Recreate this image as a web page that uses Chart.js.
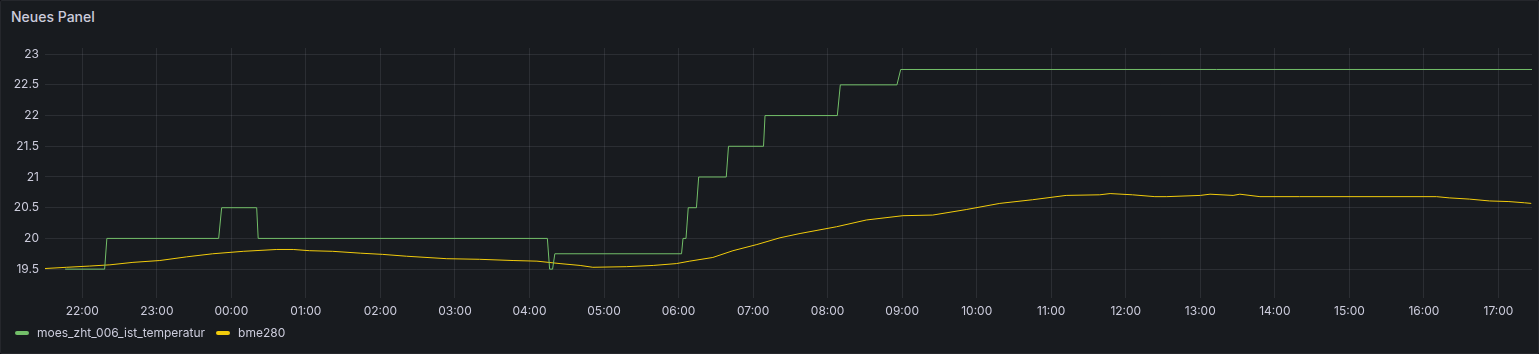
<!DOCTYPE html>
<html>
<head>
<meta charset="utf-8">
<script src="https://cdn.jsdelivr.net/npm/chart.js@4.4.1/dist/chart.umd.min.js"></script>
<style>
  html, body { margin: 0; padding: 0; background: #111217; }
  #panel {
    position: absolute; left: 0; top: 0; width: 1537px; height: 352px;
    background: #181b1f; border: 1px solid #25272c; border-radius: 2px;
    font-family: Inter, "Noto Sans", sans-serif; color: #ccccdc;
  }
  #title { position: absolute; left: 10px; top: 7px; font-size: 14px; font-weight: 500; }
  #wrap { position: absolute; left: -1px; top: -1px; width: 1539px; height: 354px; }
  #legend { position: absolute; left: 14px; top: 324px; display: flex; font-size: 12px; line-height: 16px; }
  .item { display: flex; align-items: center; margin-right: 11px; }
  .mark { width: 14px; height: 4px; border-radius: 2px; margin-right: 8px; }
</style>
</head>
<body>
<div id="panel">
  <div id="title">Neues Panel</div>
  <div id="wrap"><canvas id="myChart"></canvas></div>
  <div id="legend"></div>
</div>
<script>
// time in hours since midnight of the first day (24 = 00:00 next day)
var moesTime = [21.77, 22.30, 22.33, 23.83, 23.87, 24.34, 24.36, 28.24, 28.27, 28.31, 28.34,
  30.04, 30.06, 30.10, 30.13, 30.24, 30.27, 30.64, 30.67, 31.14, 31.16, 32.13, 32.17, 32.93, 32.98, 41.45];
var moesVals = [19.5, 19.5, 20, 20, 20.5, 20.5, 20, 20, 19.5, 19.5, 19.75,
  19.75, 20, 20, 20.5, 20.5, 21, 21, 21.5, 21.5, 22, 22, 22.5, 22.5, 22.75, 22.75];

var bmeTime = [21.50, 21.79, 22.10, 22.37, 22.68, 23.04, 23.40, 23.75, 24.16, 24.61, 24.83, 25.05,
  25.36, 25.73, 26.03, 26.35, 26.89, 27.33, 27.78, 28.10, 28.41, 28.68, 28.85, 29.30, 29.66, 29.97,
  30.15, 30.46, 30.73, 31.05, 31.36, 31.63, 32.12, 32.52, 33.01, 33.41, 33.86, 34.31, 34.75, 35.20,
  35.65, 35.79, 36.09, 36.39, 36.55, 37.00, 37.13, 37.44, 37.53, 37.80, 38.33, 40.17, 40.34, 40.61,
  40.88, 41.14, 41.35, 41.44];
var bmeVals = [19.51, 19.53, 19.55, 19.57, 19.61, 19.64, 19.70, 19.75, 19.79, 19.82, 19.82, 19.80,
  19.79, 19.76, 19.74, 19.71, 19.67, 19.66, 19.64, 19.63, 19.59, 19.56, 19.53, 19.54, 19.56, 19.59,
  19.63, 19.69, 19.80, 19.90, 20.01, 20.08, 20.19, 20.30, 20.37, 20.38, 20.47, 20.57, 20.63, 20.70,
  20.71, 20.73, 20.71, 20.68, 20.68, 20.70, 20.72, 20.70, 20.72, 20.68, 20.68, 20.68, 20.66, 20.64,
  20.61, 20.60, 20.58, 20.57];

var hourTicks = [22, 23, 24, 25, 26, 27, 28, 29, 30, 31, 32, 33, 34, 35, 36, 37, 38, 39, 40, 41];
var valueTicks = [19.5, 20, 20.5, 21, 21.5, 22, 22.5, 23];

var seriesNames = ["moes_zht_006_ist_temperatur", "bme280"];
var seriesColors = ["#73bf69", "#f2cc0c"];

function pts(t, v) {
  var out = [];
  for (var i = 0; i < t.length; i++) out.push({x: t[i], y: v[i]});
  return out;
}

var grid = "rgba(204,204,220,0.11)";
var tickFont = {family: "Inter", size: 12};

var ctx = document.getElementById("myChart").getContext("2d");
var chart = new Chart(ctx, {
  type: "line",
  data: {
    datasets: [{
      label: seriesNames[0],
      data: pts(moesTime, moesVals),
      borderColor: seriesColors[0],
      borderWidth: 1,
      pointRadius: 0,
      tension: 0
    }, {
      label: seriesNames[1],
      data: pts(bmeTime, bmeVals),
      borderColor: seriesColors[1],
      borderWidth: 1,
      pointRadius: 0,
      tension: 0
    }]
  },
  options: {
    responsive: true,
    maintainAspectRatio: false,
    animation: false,
    layout: {padding: {left: 0, right: 7, top: 48, bottom: 0}},
    plugins: {legend: {display: false}, tooltip: {enabled: false}},
    scales: {
      x: {
        type: "linear",
        min: 21.5,
        max: 41.45,
        afterBuildTicks: function(s) { s.ticks = hourTicks.map(function(v) { return {value: v}; }); },
        afterFit: function(s) { s.height = 56; },
        grid: {color: grid, drawTicks: false},
        border: {display: false},
        ticks: {
          color: "#ccccdc", font: tickFont, padding: 6, autoSkip: false, maxRotation: 0,
          callback: function(v) { var h = v % 24; return (h < 10 ? "0" : "") + h + ":00"; }
        }
      },
      y: {
        min: 19.03,
        max: 23.1,
        afterBuildTicks: function(s) { s.ticks = valueTicks.map(function(v) { return {value: v}; }); },
        afterFit: function(s) { s.width = 45; },
        grid: {color: grid, drawTicks: false},
        border: {display: false},
        ticks: {
          color: "#ccccdc", font: tickFont, padding: 6, autoSkip: false,
          callback: function(v) { return String(v); }
        }
      }
    }
  }
});

var lg = document.getElementById("legend");
for (var i = 0; i < seriesNames.length; i++) {
  lg.innerHTML += '<div class="item"><div class="mark" style="background:' + seriesColors[i] +
    '"></div><span>' + seriesNames[i] + '</span></div>';
}
</script>
</body>
</html>
